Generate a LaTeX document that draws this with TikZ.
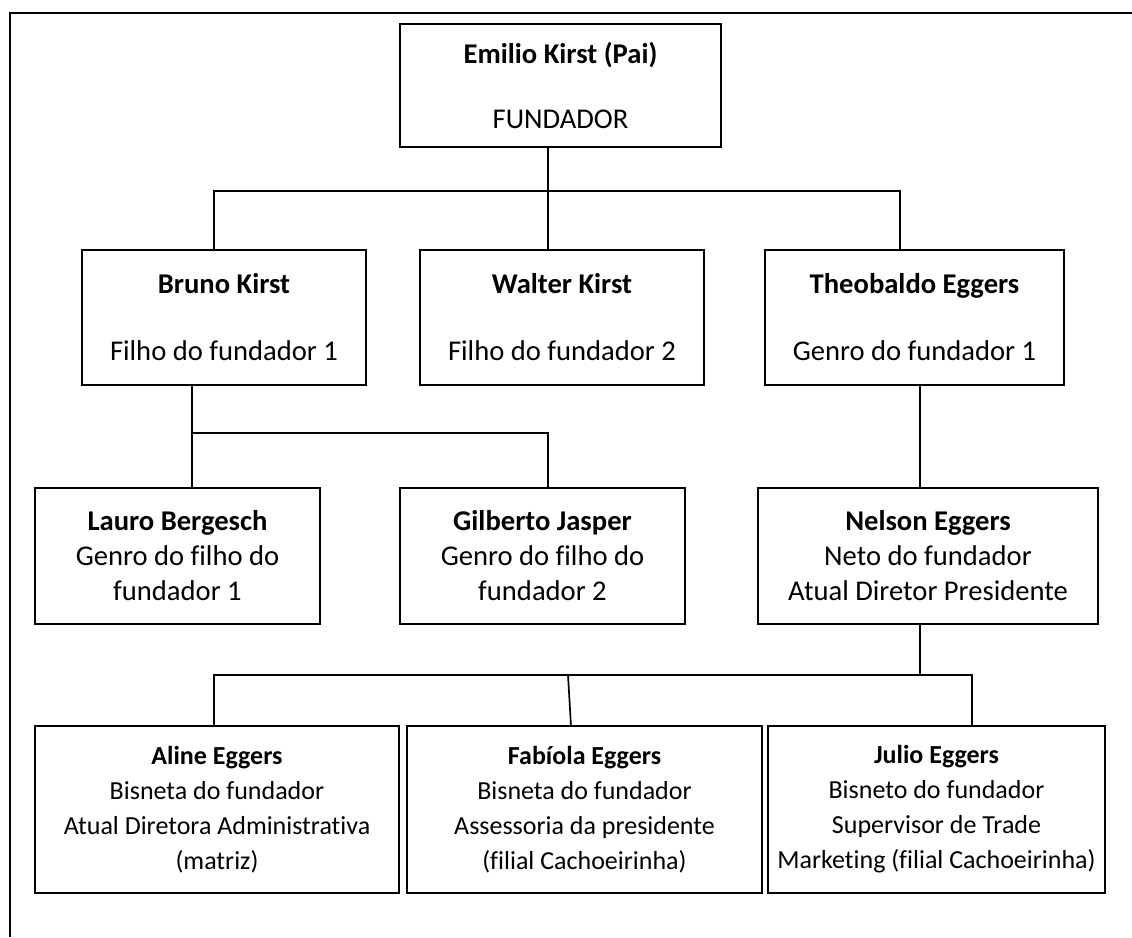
\documentclass[tikz,border=0pt]{standalone}
\usepackage{fontspec}
\setmainfont{Carlito}[Ligatures={NoCommon}]
\begin{document}
\begin{tikzpicture}[x=1pt,y=-1pt,
  box/.style={draw=black,line width=1.3pt,rectangle,inner sep=0pt,align=center,
    font=\fontsize{28.6pt}{35pt}\selectfont},
  smallbox/.style={box,font=\fontsize{26pt}{35pt}\selectfont},
  conn/.style={draw=black,line width=1.7pt},
  frame/.style={draw=black,line width=2.8pt}]
\useasboundingbox (0,0) rectangle (1132,937);
% frame (top and left edges)
\coordinate (fA) at (10,937);
\coordinate (fB) at (10,13);
\coordinate (fC) at (1132,13);
\draw[frame] (fA) -- (fB) -- (fC);

% boxes
\node[box,minimum width=321pt,minimum height=123pt] (top) at (560.5,85.5)
  {\textbf{Emilio Kirst (Pai)}\\[30pt]FUNDADOR};
\node[box,minimum width=284pt,minimum height=135pt] (bruno) at (224,317.5)
  {\textbf{Bruno Kirst}\\[32pt]Filho do fundador 1};
\node[box,minimum width=284pt,minimum height=135pt] (walter) at (562,317.5)
  {\textbf{Walter Kirst}\\[32pt]Filho do fundador 2};
\node[box,minimum width=299pt,minimum height=135pt] (theo) at (914.5,317.5)
  {\textbf{Theobaldo Eggers}\\[32pt]Genro do fundador 1};
\node[box,minimum width=285pt,minimum height=136pt] (lauro) at (177.5,556)
  {\textbf{Lauro Bergesch}\\Genro do filho do\\fundador 1};
\node[box,minimum width=285pt,minimum height=136pt] (gilberto) at (542.5,556)
  {\textbf{Gilberto Jasper}\\Genro do filho do\\fundador 2};
\node[box,minimum width=340pt,minimum height=136pt] (nelson) at (928,556)
  {\textbf{Nelson Eggers}\\Neto do fundador\\Atual Diretor Presidente};
\node[smallbox,minimum width=364pt,minimum height=167pt] (aline) at (217,809.5)
  {\textbf{Aline Eggers}\\Bisneta do fundador\\Atual Diretora Administrativa\\(matriz)};
\node[smallbox,minimum width=355pt,minimum height=167pt] (fabiola) at (584.5,809.5)
  {\textbf{Fabíola Eggers}\\Bisneta do fundador\\Assessoria da presidente\\(filial Cachoeirinha)};
\node[smallbox,minimum width=337pt,minimum height=167pt] (julio) at (936.5,809.5)
  {\textbf{Julio Eggers}\\Bisneto do fundador\\Supervisor de Trade\\Marketing (filial Cachoeirinha)};

% junction coordinates
\coordinate (j1) at (548,191);
\coordinate (jL) at (214,191);
\coordinate (jR) at (900,191);
\coordinate (k1) at (192,433);
\coordinate (k2) at (548,433);
\coordinate (m1) at (920,436);
\coordinate (n1) at (920,675);
\coordinate (nL) at (214,675);
\coordinate (nR) at (972,675);
\coordinate (nF) at (568,675);
\coordinate (fb) at (571,726);

% connectors
\draw[conn] (top.south -| j1) -- (j1);
\draw[conn] (jL |- bruno.north) -- (jL) -- (jR) -- (jR |- theo.north);
\draw[conn] (j1) -- (j1 |- walter.north);

\draw[conn] (bruno.south -| k1) -- (k1) -- (k2) -- (k2 |- gilberto.north);
\draw[conn] (k1) -- (k1 |- lauro.north);

\draw[conn] (theo.south -| m1) -- (nelson.north -| m1);

\draw[conn] (nelson.south -| n1) -- (n1);
\draw[conn] (nL |- aline.north) -- (nL) -- (nR) -- (nR |- julio.north);
\draw[conn] (nF) -- (fb);
\end{tikzpicture}
\end{document}
